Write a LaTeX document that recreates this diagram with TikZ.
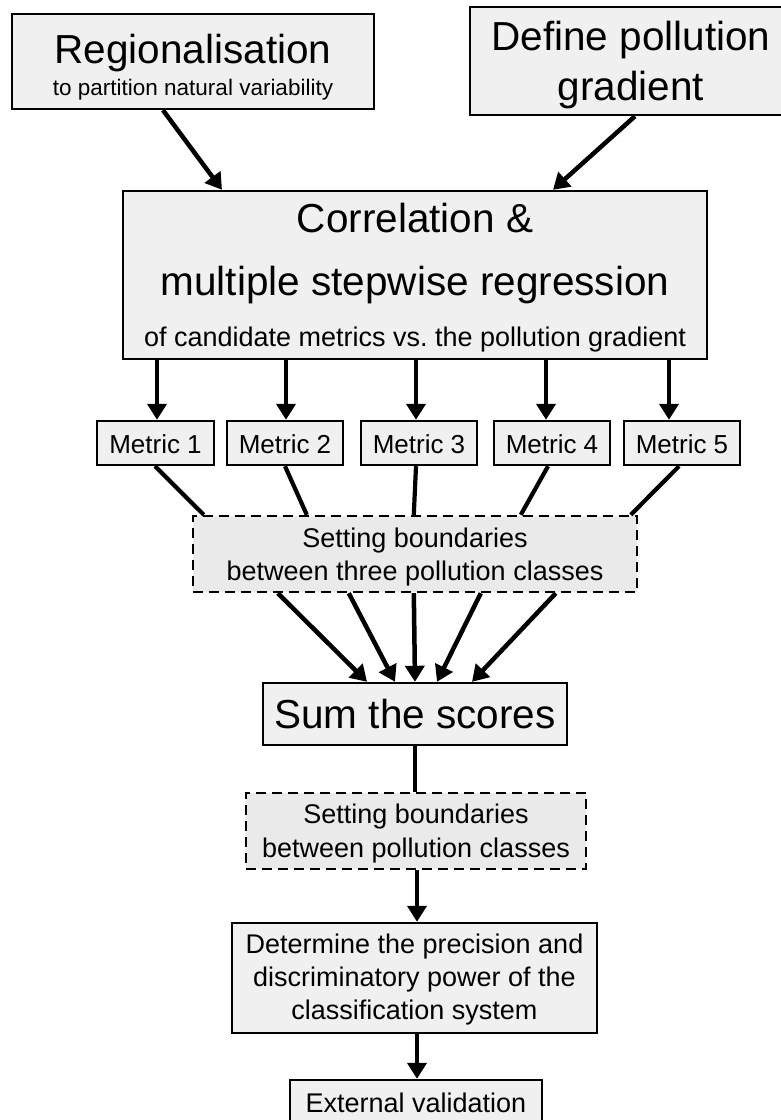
\documentclass[tikz,border=0pt]{standalone}
\usepackage{fontspec}
\setmainfont{Liberation Sans}
\usetikzlibrary{arrows.meta,calc}
\definecolor{boxfill}{RGB}{240,240,240}
\definecolor{dashfill}{RGB}{234,234,234}
\tikzset{
  box/.style={draw, line width=2.4pt, fill=boxfill, inner sep=0pt},
  dbox/.style={draw, line width=2.4pt, fill=dashfill, inner sep=0pt, dash pattern=on 10pt off 6pt},
  txt/.style={inner sep=0pt, anchor=base},
  big/.style={font=\fontsize{40.5}{48}\selectfont},
  med/.style={font=\fontsize{27}{32}\selectfont},
  met/.style={font=\fontsize{26}{30}\selectfont},
  sml/.style={font=\fontsize{22.5}{26}\selectfont},
  arr/.style={line width=4.5pt, -{Triangle[length=16pt,width=19pt]}},
  conn/.style={line width=4.2pt}
}
\begin{document}
\begin{tikzpicture}[x=1pt,y=-1pt]
\useasboundingbox (0,0) rectangle (781,1120);
\fill[white] (0,0) rectangle (781,1120);

% boxes
\node[box, minimum width=362pt, minimum height=95pt] (reg) at (193,61.5) {};
\node[box, minimum width=322pt, minimum height=108pt] (def) at (631,61) {};
\node[box, minimum width=584pt, minimum height=168pt] (cor) at (415,275) {};
\node[box, minimum width=117pt, minimum height=44pt] (m1) at (155.5,443) {};
\node[box, minimum width=116pt, minimum height=44pt] (m2) at (285,443) {};
\node[box, minimum width=116pt, minimum height=44pt] (m3) at (419,443) {};
\node[box, minimum width=116pt, minimum height=44pt] (m4) at (552,443) {};
\node[box, minimum width=116pt, minimum height=44pt] (m5) at (682,443) {};
\node[dbox, minimum width=444pt, minimum height=76pt] (sb) at (415,554) {};
\node[box, minimum width=304pt, minimum height=62pt] (sum) at (415,714) {};
\node[dbox, minimum width=340pt, minimum height=76pt] (sb2) at (416,831) {};
\node[box, minimum width=365pt, minimum height=110pt] (det) at (414.5,978) {};
\node[box, minimum width=252pt, minimum height=44pt] (ext) at (416,1102) {};

% texts
\node[txt,big] (t-reg1) at (193,63) {Regionalisation};
\node[txt,sml] (t-reg2) at (193,95) {to partition natural variability};
\node[txt,big] (t-def1) at (631,50) {Define pollution};
\node[txt,big] (t-def2) at (631,100) {gradient};
\node[txt,big] (t-cor1) at (415,232) {Correlation \&};
\node[txt,big] (t-cor2) at (415,295) {multiple stepwise regression};
\node[txt,med] (t-cor3) at (415,346) {of candidate metrics vs.\ the pollution gradient};
\node[txt,met] (t-m1) at (155.5,453) {Metric 1};
\node[txt,met] (t-m2) at (285,453) {Metric 2};
\node[txt,met] (t-m3) at (419,453) {Metric 3};
\node[txt,met] (t-m4) at (552,453) {Metric 4};
\node[txt,met] (t-m5) at (682,453) {Metric 5};
\node[txt,med] (t-sb1) at (415,547) {Setting boundaries};
\node[txt,med] (t-sb2) at (415,580) {between three pollution classes};
\node[txt,big] (t-sum) at (415,728) {Sum the scores};
\node[txt,med] (t-sbb1) at (416,823) {Setting boundaries};
\node[txt,med] (t-sbb2) at (416,857) {between pollution classes};
\node[txt,med] (t-det1) at (414.5,953) {Determine the precision and};
\node[txt,med] (t-det2) at (414.5,986) {discriminatory power of the};
\node[txt,med] (t-det3) at (414.5,1019) {classification system};
\node[txt,med] (t-ext) at (416,1112) {External validation};

% connectors
\draw[arr] ([xshift=-30pt]reg.south) -- ([xshift=-193pt]cor.north);
\draw[arr] ([xshift=4pt]def.south) -- ([xshift=138pt]cor.north);

\draw[arr] ($(m1.north |- cor.south)+(1.5,0)$) -- ($(m1.north)+(1.5,0)$);
\draw[arr] ($(m2.north |- cor.south)+(1,0)$) -- ($(m2.north)+(1,0)$);
\draw[arr] ($(m3.north |- cor.south)+(-3,0)$) -- ($(m3.north)+(-3,0)$);
\draw[arr] ($(m4.north |- cor.south)+(-6,0)$) -- ($(m4.north)+(-6,0)$);
\draw[arr] ($(m5.north |- cor.south)+(-13,0)$) -- ($(m5.north)+(-13,0)$);

\draw[conn] ($(m1.south)+(-0.5,0)$) -- ($(sb.north west)+(12,0)$);
\draw[conn] (m2.south) -- ($(sb.north west)+(115,0)$);
\draw[conn] ($(m3.south)+(-3,0)$) -- ($(sb.north west)+(222,0)$);
\draw[conn] ($(m4.south)+(-4,0)$) -- ($(sb.north west)+(329,0)$);
\draw[conn] ($(m5.south)+(-3,0)$) -- ($(sb.north west)+(439,0)$);

\draw[arr] ($(sb.south west)+(86,0)$) -- ($(sum.north)+(-48,0)$);
\draw[arr] ($(sb.south west)+(157,0)$) -- ($(sum.north)+(-20,0)$);
\draw[arr] ($(sb.south west)+(222,0)$) -- (sum.north);
\draw[arr] ($(sb.south west)+(289,0)$) -- ($(sum.north)+(22,0)$);
\draw[arr] ($(sb.south west)+(364,0)$) -- ($(sum.north)+(57,0)$);

\draw[conn] (sum.south) -- (sum.south |- sb2.north);
\draw[arr] ($(sb2.south)+(1,0)$) -- ($(sb2.south |- det.north)+(1,0)$);
\draw[arr] ($(det.south)+(2.5,0)$) -- ($(det.south |- ext.north)+(2.5,0)$);
\end{tikzpicture}
\end{document}
